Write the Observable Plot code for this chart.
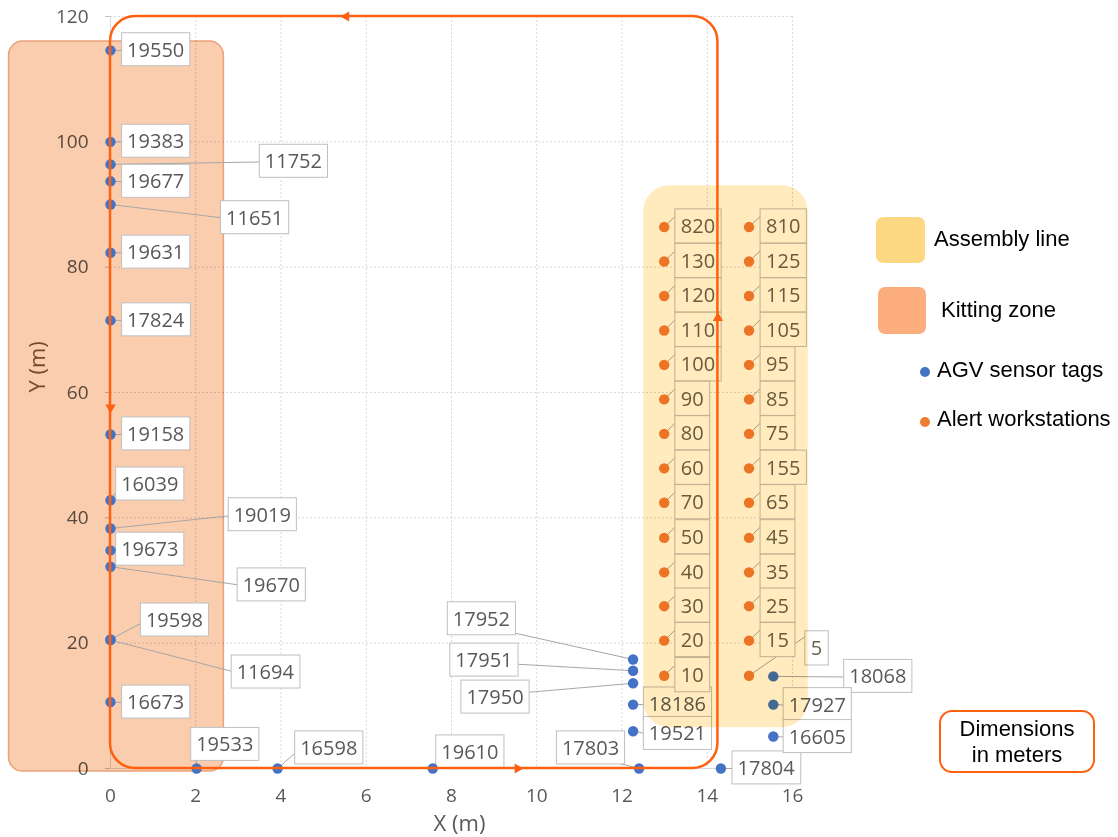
<!DOCTYPE html>
<html><head><meta charset="utf-8">
<script src="https://cdn.jsdelivr.net/npm/d3@7"></script>
<script src="https://cdn.jsdelivr.net/npm/@observablehq/plot@0.6"></script>
<style>
body{margin:0;background:#fff;}
#wrap{position:relative;width:1118px;height:837px;overflow:hidden;font-family:"Liberation Sans",Arial,sans-serif;background:#fff;}
#wrap svg{position:absolute;left:0;top:0;}
.sq{position:absolute;border-radius:7px;}
.lt{position:absolute;font-size:22px;color:#000;line-height:22px;white-space:nowrap;}
.ld{position:absolute;width:10px;height:10px;border-radius:50%;}
#dim{position:absolute;left:939px;top:710px;width:152px;height:59px;border:2px solid #FF6010;border-radius:13px;
 display:flex;align-items:center;justify-content:center;text-align:center;font-size:22px;line-height:26px;color:#000;}
svg g[aria-label="y-axis tick"]{stroke:#BFBFBF;}
svg g[aria-label="y-axis"] line{stroke:#BFBFBF;}
</style></head>
<body>
<div id="wrap">
  <div class="sq" style="left:876px;top:217px;width:49px;height:46px;background:#FDD882;"></div>
  <div class="lt" style="left:934px;top:228px;">Assembly line</div>
  <div class="sq" style="left:878px;top:287px;width:48px;height:47px;background:#FCAD7D;"></div>
  <div class="lt" style="left:941px;top:299px;">Kitting zone</div>
  <div class="ld" style="left:920px;top:367px;background:#4472C4;"></div>
  <div class="lt" style="left:937px;top:359px;">AGV sensor tags</div>
  <div class="ld" style="left:920px;top:417px;background:#ED7D31;"></div>
  <div class="lt" style="left:937px;top:408px;">Alert workstations</div>
  <div id="dim">Dimensions<br>in meters</div>
</div>
<script>
// Axis ticks
const xTicks = [0, 2, 4, 6, 8, 10, 12, 14, 16];
const yTicks = [0, 20, 40, 60, 80, 100, 120];

// AGV sensor tags
const agvIds = ["19550","19383","11752","19677","11651","19631","17824","19158","16039","19019","19673","19670","19598","11694","16673",
  "19533","16598","19610","17803","17804","17952","17951","17950","18186","19521","18068","17927","16605"];
const agvX = [0,0,0,0,0,0,0,0,0,0,0,0,0,0,0,
  2.02,3.92,7.56,12.40,14.32,12.26,12.26,12.26,12.26,12.26,15.55,15.55,15.55];
const agvY = [114.6,100.0,96.4,93.7,90.0,82.3,71.5,53.3,42.8,38.3,34.8,32.2,20.6,20.5,10.6,
  0,0,0,0,0,17.4,15.6,13.6,10.2,5.95,14.7,10.2,5.1];
const agvLabelX = [0.39,0.39,3.62,0.39,2.71,0.39,0.39,0.39,0.25,2.89,0.25,3.10,0.83,2.96,0.39,
  2.01,4.45,7.76,10.59,14.71,8.03,8.09,8.35,12.63,12.63,17.33,15.91,15.91];
const agvLabelY = [114.6,100.0,96.8,93.6,87.8,82.3,71.5,53.3,45.3,40.4,34.9,29.2,23.6,15.3,10.5,
  3.75,3.19,2.55,3.19,0,23.8,17.2,11.3,10.2,5.5,14.6,10.1,5.0];

// Alert workstations
const wsIds = ["820","130","120","110","100","90","80","60","70","50","40","30","20","10",
  "810","125","115","105","95","85","75","155","65","45","35","25","15","5"];
const wsX = [12.99,12.99,12.99,12.99,12.99,12.99,12.99,12.99,12.99,12.99,12.99,12.99,12.99,12.99,
  14.98,14.98,14.98,14.98,14.98,14.98,14.98,14.98,14.98,14.98,14.98,14.98,14.98,14.98];
const wsY = [86.4,80.9,75.4,69.9,64.4,58.9,53.4,47.9,42.4,36.8,31.3,25.9,20.4,14.8,
  86.4,80.9,75.4,69.9,64.4,58.9,53.4,47.9,42.4,36.8,31.3,25.9,20.4,14.8];
const wsLabelX = [13.38,13.38,13.38,13.38,13.38,13.38,13.38,13.38,13.38,13.38,13.38,13.38,13.38,13.38,
  15.38,15.38,15.38,15.38,15.38,15.38,15.38,15.38,15.38,15.38,15.38,15.38,15.38,16.43];
const wsLabelY = [86.4,80.9,75.4,69.9,64.4,58.9,53.4,47.9,42.4,36.8,31.3,25.9,20.4,14.8,
  86.4,80.9,75.4,69.9,64.4,58.9,53.4,47.9,42.4,36.8,31.3,25.9,20.4,19.07];

// Zones and AGV route (meters)
const kittingX = [-2.38, 2.66], kittingY = [-0.48, 116.0];
const assemblyX = [12.51, 16.37], assemblyY = [6.49, 92.98];
const routeX = [0, 14.25], routeY = [0, 120];
const arrowX = [5.53, 0, 9.55, 14.25];
const arrowY = [120, 57.6, 0, 71.9];
const arrowRotate = [-90, 180, 90, 0];

const agv = agvIds.map((id, i) => ({id, x: agvX[i], y: agvY[i], lx: agvLabelX[i], ly: agvLabelY[i]}));
const ws = wsIds.map((id, i) => ({id, x: wsX[i], y: wsY[i], lx: wsLabelX[i], ly: wsLabelY[i]}));
const kitting = [{x1: kittingX[0], x2: kittingX[1], y1: kittingY[0], y2: kittingY[1]}];
const assembly = [{x1: assemblyX[0], x2: assemblyX[1], y1: assemblyY[0], y2: assemblyY[1]}];
const route = [{x1: routeX[0], x2: routeX[1], y1: routeY[0], y2: routeY[1]}];
const arrows = arrowX.map((x, i) => ({x, y: arrowY[i], rotate: arrowRotate[i]}));

const orange = "#FF6010";
const svg = Plot.plot({
  width: 1118, height: 837,
  marginLeft: 110, marginRight: 326, marginTop: 16, marginBottom: 69,
  style: {fontFamily: "'Open Sans', sans-serif", fontSize: "19px", color: "#595959", background: "transparent", overflow: "visible"},
  x: {domain: [0, 16], ticks: xTicks, tickSize: 0, tickPadding: 20, label: null},
  y: {domain: [0, 120], ticks: yTicks, tickSize: 5, tickPadding: 17, label: null},
  marks: [
    Plot.ruleY(yTicks.filter(d => d > 0), {stroke: "#D9D9D9", strokeDasharray: "2,2"}),
    Plot.ruleX(xTicks.filter(d => d > 0), {stroke: "#D9D9D9", strokeDasharray: "2,2"}),
    Plot.ruleX([0], {stroke: "#D9D9D9"}),
    Plot.ruleY([0], {stroke: "#D9D9D9"}),
    Plot.text(["X (m)"], {text: d => d, frameAnchor: "bottom", dy: 62, dx: 8, fontSize: 22, fill: "#595959"}),
    Plot.text(["Y (m)"], {text: d => d, frameAnchor: "left", dx: -73, rotate: -90, fontSize: 22, fill: "#7A5A48"}),
    Plot.rect(kitting, {x1: "x1", x2: "x2", y1: "y1", y2: "y2", rx: 14, fill: "#FBCDAF",
      stroke: "#E9A27A", strokeWidth: 1.5, mixBlendMode: "multiply"}),
    Plot.link(agv, {x1: "x", y1: "y", x2: "lx", y2: "ly", stroke: "#A6A6A6", strokeWidth: 1}),
    Plot.link(ws, {x1: "x", y1: "y", x2: "lx", y2: d => d.ly + 2.6, stroke: "#A6A6A6", strokeWidth: 1}),
    Plot.text(agv, {x: "lx", y: "ly", text: "id", textAnchor: "start", fill: "#595959", fontSize: 20, ariaDescription: "agv-labels"}),
    Plot.text(ws, {x: "lx", y: "ly", text: "id", textAnchor: "start", fill: "#6B6150", fontSize: 20, ariaDescription: "ws-labels"}),
    Plot.dot(agv, {x: "x", y: "y", r: 5.2, fill: "#4472C4"}),
    Plot.dot(ws, {x: "x", y: "y", r: 5.2, fill: "#ED7D31"}),
    Plot.rect(assembly, {x1: "x1", x2: "x2", y1: "y1", y2: "y2", rx: 26, fill: "#FFEBBE", mixBlendMode: "multiply"}),
    Plot.rect(route, {x1: "x1", x2: "x2", y1: "y1", y2: "y2", rx: 25, fill: "none", stroke: orange, strokeWidth: 2.5}),
    Plot.dot(arrows, {x: "x", y: "y", symbol: "triangle", rotate: "rotate", r: 3.8, fill: orange})
  ]
});
const wrap = document.getElementById("wrap");
wrap.insertBefore(svg, wrap.firstChild);

function boxes(desc, px, py) {
  svg.querySelectorAll(`g[aria-description="${desc}"] text`).forEach(t => {
    const b = t.getBBox();
    const r = document.createElementNS("http://www.w3.org/2000/svg", "rect");
    r.setAttribute("x", b.x - px);
    r.setAttribute("y", b.y - py);
    r.setAttribute("width", b.width + 2 * px);
    r.setAttribute("height", b.height + 2 * py);
    r.setAttribute("fill", "#FFFFFF");
    r.setAttribute("stroke", "#BFBFBF");
    r.setAttribute("stroke-width", "1");
    const tr = t.getAttribute("transform");
    if (tr) r.setAttribute("transform", tr);
    t.parentNode.insertBefore(r, t);
  });
}
boxes("agv-labels", 5.5, 3);
boxes("ws-labels", 6, 3.6);
</script>
</body></html>
